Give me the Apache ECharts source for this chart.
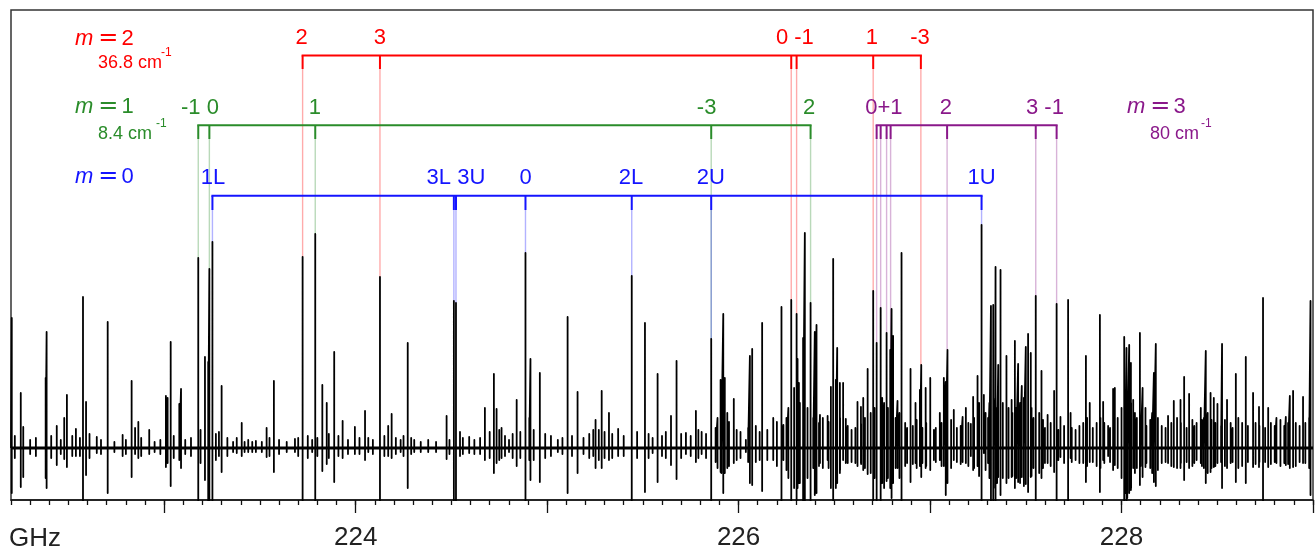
<!DOCTYPE html>
<html><head><meta charset="utf-8">
<script src="https://cdn.jsdelivr.net/npm/echarts@6/dist/echarts.min.js"></script>
<style>html,body{margin:0;padding:0;background:#fff}#c{width:1315px;height:553px}</style>
</head><body><div id="c"></div>
<script>
// ---------- axis ----------
const xMin = 222.2, xMax = 229.0;
const majorTicks = [223, 224, 225, 226, 227, 228, 229];
const tickLabels = [224, 226, 228];

// ---------- spectrum: [GHz, positive lobe, negative lobe] (arbitrary intensity) ----------
const strongLines = [
[222.204,130,45],[222.251,55,39],[222.264,21,29],[222.381,70,30],[222.386,116,40],[222.439,22,17],
[222.478,30,11],[222.492,53,19],[222.539,19,8],[222.576,151,60],[222.592,46,27],[222.648,11,5],
[222.705,126,45],[222.783,13,8],[222.830,67,29],[222.848,20,6],[222.865,26,10],[222.922,18,6],
[223.009,52,19],[223.018,50,15],[223.034,106,38],[223.079,44,12],[223.088,59,20],[223.178,190,60],
[223.213,91,32],[223.230,86,60],[223.236,179,60],[223.252,206,60],[223.286,16,8],[223.300,62,24],
[223.379,10,5],[223.405,25,8],[223.439,8,4],[223.479,7,4],[223.535,20,9],[223.573,67,24],
[223.683,9,4],[223.723,191,60],[223.773,8,4],[223.789,214,60],[223.826,63,23],[223.849,45,16],
[223.888,96,34],[223.932,27,10],[223.996,21,6],[224.049,37,12],[224.066,10,4],[224.127,171,60],
[224.170,22,8],[224.188,34,10],[224.235,8,4],[224.272,105,40],[224.306,8,4],[224.379,8,4],
[224.475,32,11],[224.513,147,60],[224.524,145,60],[224.545,16,8],[224.593,11,5],[224.675,40,12],
[224.722,74,25],[224.736,39,15],[224.762,20,10],[224.801,8,4],[224.841,48,18],[224.887,195,60],
[224.907,30,12],[224.913,89,32],[224.962,75,34],[225.056,8,4],[225.107,131,45],[225.159,56,25],
[225.241,18,8],[225.253,28,20],[225.285,57,20],[225.323,35,12],[225.371,19,8],[225.442,172,60],
[225.511,125,44],[225.551,10,5],[225.577,74,34],[225.647,32,17],[225.676,87,31],[225.725,15,6],
[225.777,37,14],[225.807,16,6],[225.857,109,60],[225.906,68,24],[225.920,134,45],[225.928,70,25],
[225.941,35,20],[225.975,49,15],[226.038,8,4],[226.059,92,35],[226.071,99,37],[226.123,125,43],
[226.181,30,12],[226.224,141,60],[226.234,23,12],[226.275,148,60],[226.303,134,60],[226.308,89,40],
[226.315,65,35],[226.337,110,60],[226.346,215,60],[226.376,145,60],[226.398,116,47],[226.407,123,45],
[226.425,33,15],[226.465,32,12],[226.482,61,40],[226.494,189,60],[226.508,68,40],[226.515,100,35],
[226.529,65,25],[226.546,65,12],[226.560,29,15],[226.621,46,18],[226.639,41,15],[226.651,50,22],
[226.674,79,26],[226.703,157,60],[226.721,105,60],[226.742,140,60],[226.773,115,33],[226.792,98,40],
[226.799,139,50],[226.807,112,35],[226.830,47,20],[226.851,195,60],[226.898,79,34],[226.924,45,15],
[226.947,58,18],[226.954,83,29],[226.977,60,20],[227.001,70,22],[227.051,35,12],[227.072,70,18],
[227.082,66,47],[227.091,98,35],[227.124,38,12],[227.170,31,14],[227.187,40,15],[227.213,24,8],
[227.225,51,22],[227.248,72,18],[227.256,45,28],[227.269,223,60],[227.281,53,5],[227.303,30,15],
[227.318,142,60],[227.330,143,60],[227.342,181,60],[227.356,83,29],[227.368,178,47],[227.399,92,35],
[227.426,48,29],[227.443,107,40],[227.460,84,34],[227.479,62,29],[227.500,101,36],[227.512,114,44],
[227.526,95,29],[227.552,152,60],[227.582,77,30],[227.614,33,15],[227.648,57,24],[227.661,144,60],
[227.681,31,9],[227.721,148,60],[227.734,35,10],[227.814,92,34],[227.834,45,14],[227.887,133,44],
[227.904,46,12],[227.930,22,8],[227.956,59,22],[227.965,60,17],[228.014,111,60],[228.026,100,55],
[228.040,103,45],[228.049,85,42],[228.061,48,20],[228.096,115,37],[228.110,60,29],[228.125,40,19],
[228.169,75,34],[228.179,104,38],[228.243,32,15],[228.273,47,19],[228.308,48,20],[228.327,71,32],
[228.353,54,20],[228.392,25,12],[228.414,40,15],[228.440,97,35],[228.465,55,24],[228.482,50,19],
[228.501,44,15],[228.525,104,40],[228.551,48,20],[228.597,74,34],[228.649,91,35],[228.687,55,19],
[228.718,41,19],[228.739,150,60],[228.766,40,19],[228.809,30,15],[228.858,31,17],[228.879,52,20],
[228.896,57,19],[228.948,51,15],[228.987,147,47]
];
const weakLines = [
[222.22,12,10],[222.30,8,6],[222.33,10,8],[222.41,12,10],[222.46,8,6],[222.52,12,8],[222.56,10,8],
[222.61,14,10],[222.67,8,6],[222.74,6,4],[222.80,8,6],[222.88,10,8],[222.95,6,4],[222.98,8,6],
[223.05,12,10],[223.11,8,6],[223.14,10,8],[223.19,18,15],[223.27,14,12],[223.33,10,8],[223.36,6,4],
[223.42,6,4],[223.46,6,4],[223.51,6,4],[223.55,10,8],[223.60,8,6],[223.64,6,4],[223.70,10,8],
[223.75,12,10],[223.80,10,8],[223.86,14,10],[223.91,12,8],[223.96,8,6],[224.02,10,6],[224.09,8,6],
[224.15,12,8],[224.21,10,6],[224.25,12,8],[224.29,10,6],[224.34,6,4],[224.42,6,4],
[224.49,8,6],[224.56,10,6],[224.62,8,6],[224.65,10,6],[224.70,16,10],[224.75,18,12],[224.78,12,8],
[224.82,14,10],[224.86,16,10],[224.93,18,12],[224.99,14,10],[225.02,12,8],[225.08,10,6],[225.13,12,8],
[225.19,10,6],[225.22,14,10],[225.27,18,12],[225.30,16,10],[225.34,14,10],[225.40,12,8],[225.47,16,10],
[225.53,14,10],[225.60,12,8],[225.62,16,10],[225.70,14,10],[225.75,12,8],[225.79,18,10],[225.83,14,10],
[225.88,20,14],[225.89,30,20],[225.91,40,25],[225.95,26,18],[225.99,18,12],[226.01,16,10],[226.05,20,14],
[226.09,22,14],[226.11,16,12],[226.15,18,12],[226.20,26,18],[226.25,30,22],[226.26,40,30],[226.29,60,40],
[226.32,45,35],[226.36,40,30],[226.39,30,20],[226.42,25,18],[226.44,30,20],[226.47,26,20],[226.53,30,22],
[226.57,22,15],[226.59,18,14],[226.61,20,15],[226.64,24,16],[226.66,30,20],[226.69,35,25],
[226.71,40,30],[226.75,50,35],[226.76,45,40],[226.78,40,30],[226.82,30,20],[226.84,35,30],[226.87,25,18],
[226.88,20,15],[226.91,22,16],[226.93,28,20],[226.96,20,15],[226.98,25,18],[227.02,18,12],[227.03,20,14],
[227.06,25,18],[227.11,28,20],[227.14,20,14],[227.16,22,16],[227.20,25,18],[227.23,30,20],[227.29,35,22],
[227.31,45,30],[227.34,50,40],[227.35,40,35],[227.38,45,30],[227.41,40,30],[227.43,35,28],[227.45,40,30],
[227.47,45,35],[227.49,50,38],[227.53,40,28],[227.54,30,20],[227.57,35,25],[227.59,28,20],[227.60,20,15],
[227.63,25,18],[227.67,18,12],[227.70,22,15],[227.74,20,14],[227.76,18,12],[227.78,22,15],[227.80,25,15],
[227.82,30,18],[227.85,20,14],[227.87,25,18],[227.89,30,20],[227.91,25,15],[227.94,20,14],[227.98,30,20],
[228.00,40,30],[228.02,50,45],[228.03,55,50],[228.05,45,40],[228.07,35,25],[228.08,30,20],[228.10,28,18],
[228.13,22,15],[228.15,28,20],[228.16,35,25],[228.19,30,22],[228.21,22,15],[228.23,20,14],[228.26,25,18],
[228.29,30,20],[228.31,25,15],[228.34,20,14],[228.37,28,18],[228.38,22,15],[228.42,28,18],[228.43,30,20],
[228.45,35,25],[228.47,28,20],[228.49,25,18],[228.52,22,14],[228.54,28,18],[228.57,25,15],[228.58,20,14],
[228.61,30,20],[228.63,25,18],[228.66,22,14],[228.70,25,16],[228.72,22,14],[228.75,20,14],[228.78,25,16],
[228.80,22,14],[228.83,28,18],[228.85,22,15],[228.87,25,16],[228.91,25,18],[228.93,22,14],[228.96,25,15],
[228.98,30,20]
];

// ---------- assignments (GHz) ----------
const m0Lines = [223.252, 224.513, 224.524, 224.887, 225.442, 225.857, 227.269];
const m0Labels = [['1L', 223.255], ['3L 3U', 224.524], ['0', 224.888], ['2L', 225.438], ['2U', 225.855], ['1U', 227.269]];
const m1Lines = [223.178, 223.236, 223.789, 225.857, 226.376];
const m1Labels = [['-1 0', 223.187], ['1', 223.787], ['-3', 225.833], ['2', 226.369]];
const m2Lines = [223.723, 224.127, 226.275, 226.303, 226.703, 226.952];
const m2Labels = [['2', 223.718], ['3', 224.127], ['0 -1', 226.294], ['1', 226.696], ['-3', 226.947]];
const m3Lines = [226.721, 226.742, 226.773, 226.794, 227.089, 227.552, 227.661];
const m3Labels = [['0+1', 226.759], ['2', 227.082], ['3 -1', 227.600]];

// ---------- build ----------
const allLines = strongLines.concat(weakLines).sort((a, b) => a[0] - b[0]);
const trace = [[xMin, 0]];
allLines.forEach(p => { trace.push([p[0], 0], [p[0], p[1]], [p[0], -p[2]], [p[0], 0]); });
trace.push([xMax, 0]);

function topAt(f) {
  let best = null, bd = 1e9;
  strongLines.forEach(p => { const d = Math.abs(p[0] - f); if (d < bd) { bd = d; best = p; } });
  return best ? best[1] : 0;
}

const FONT = '"Liberation Sans", Arial, sans-serif';
const C = { red: '#ff0000', green: '#2a8c2a', blue: '#1414ff', purple: '#8a188a' };
const G = { red: 'rgba(255,0,0,0.33)', green: 'rgba(42,140,42,0.33)', blue: 'rgba(20,20,255,0.33)', purple: 'rgba(138,24,138,0.33)' };
// row layout in y-units
const rowTop = { label: 410, bar: 392.5, tick: 379 };
const rowMid = { label: 340, bar: 322.7, tick: 309 };
const rowLow = { label: 270, bar: 252.3, tick: 238 };

function ladder(lines, row, color, guide) {
  const lo = Math.min.apply(null, lines), hi = Math.max.apply(null, lines);
  return {
    type: 'custom', xAxisIndex: 0, yAxisIndex: 0, z: 1, silent: true, animation: false,
    data: lines.map(f => [f, topAt(f)]),
    renderItem: function (params, api) {
      const f = api.value(0), top = api.value(1);
      const a = api.coord([f, row.bar]), b = api.coord([f, row.tick]), c = api.coord([f, top]);
      const ch = [
        { type: 'line', shape: { x1: b[0], y1: b[1], x2: c[0], y2: c[1] }, style: { stroke: guide, lineWidth: 1.4 } },
        { type: 'line', shape: { x1: a[0], y1: a[1], x2: b[0], y2: b[1] }, style: { stroke: color, lineWidth: 2 } }
      ];
      if (params.dataIndex === 0) {
        const l = api.coord([lo, row.bar]), r = api.coord([hi, row.bar]);
        ch.push({ type: 'line', shape: { x1: l[0] - 1, y1: l[1], x2: r[0] + 1, y2: r[1] }, style: { stroke: color, lineWidth: 2 } });
      }
      return { type: 'group', children: ch };
    }
  };
}
function labels(list, row, color) {
  return {
    type: 'custom', xAxisIndex: 0, yAxisIndex: 0, z: 3, silent: true, animation: false,
    data: list.map(l => [l[1], row.label]),
    renderItem: function (params, api) {
      const p = api.coord([api.value(0), api.value(1)]);
      return { type: 'text', x: p[0], y: p[1], style: { text: list[params.dataIndex][0], fill: color, font: '22px ' + FONT, align: 'center', verticalAlign: 'middle' } };
    }
  };
}
function mText(x, y, n, color) {
  return { type: 'text', x: x, y: y, style: {
    text: '{i|m}{e|=}{n|' + n + '}', fill: color, align: 'left', verticalAlign: 'middle',
    rich: {
      i: { fontFamily: 'Liberation Sans', fontStyle: 'italic', fontSize: 22, fill: color },
      e: { fontFamily: 'DejaVu Sans', fontSize: 24, fill: color, padding: [0, 3, 0, 5] },
      n: { fontFamily: 'Liberation Sans', fontSize: 22, fill: color }
    } } };
}
function cmText(x, y, s, supX, color) {
  return [
    { type: 'text', x: x, y: y, style: { text: s, fill: color, font: '18px ' + FONT, align: 'left', verticalAlign: 'middle' } },
    { type: 'text', x: supX, y: y - 10, style: { text: '-1', fill: color, font: '12px ' + FONT, align: 'left', verticalAlign: 'middle' } }
  ];
}

const chart = echarts.init(document.getElementById('c'), null, { renderer: 'canvas' });
const axisBase = { type: 'value', min: xMin, max: xMax, position: 'bottom', gridIndex: 0, splitLine: { show: false } };
chart.setOption({
  backgroundColor: '#fff',
  animation: false,
  grid: { left: 11, right: 2, top: 10, bottom: 53, show: true, borderColor: '#333', borderWidth: 1.5, backgroundColor: 'transparent' },
  xAxis: [
    Object.assign({}, axisBase, {
      interval: 0.1,
      axisLine: { show: true, onZero: false, lineStyle: { color: '#111', width: 1.5 } },
      axisTick: { show: true, length: 5, lineStyle: { color: '#111', width: 1.3 } },
      axisLabel: { show: false }
    }),
    Object.assign({}, axisBase, {
      axisLine: { show: false, onZero: false },
      axisTick: { show: true, length: 13, customValues: majorTicks, lineStyle: { color: '#111', width: 1.3 } },
      axisLabel: { show: true, customValues: tickLabels, fontSize: 26, fontFamily: 'Liberation Sans', color: '#222', margin: 25 }
    })
  ],
  yAxis: [{ type: 'value', min: -52, max: 438, show: false, splitLine: { show: false } }],
  graphic: [
    { type: 'text', x: 9, y: 539, style: { text: 'GHz', fill: '#222', font: '26px ' + FONT, align: 'left', verticalAlign: 'middle' } },
    mText(75, 39, '2', C.red), mText(75, 107, '1', C.green), mText(75, 177, '0', C.blue), mText(1127, 107, '3', C.purple)
  ].concat(cmText(98, 63, '36.8 cm', 161, C.red), cmText(98, 134, '8.4 cm', 156, C.green), cmText(1150, 134, '80 cm', 1201, C.purple)),
  series: [
    { type: 'line', xAxisIndex: 0, yAxisIndex: 0, data: [[xMin, 0], [xMax, 0]], showSymbol: false, silent: true, z: 2,
      lineStyle: { color: '#000', width: 3 } },
    { type: 'line', xAxisIndex: 0, yAxisIndex: 0, data: trace, showSymbol: false, silent: true, z: 4, clip: true,
      lineStyle: { color: '#000', width: 1.8, join: 'round' } },
    ladder(m2Lines, rowTop, C.red, G.red),
    ladder(m1Lines, rowMid, C.green, G.green),
    ladder(m3Lines, rowMid, C.purple, G.purple),
    ladder(m0Lines, rowLow, C.blue, G.blue),
    labels(m2Labels, rowTop, C.red),
    labels(m1Labels, rowMid, C.green),
    labels(m3Labels, rowMid, C.purple),
    labels(m0Labels, rowLow, C.blue)
  ]
});
</script></body></html>
